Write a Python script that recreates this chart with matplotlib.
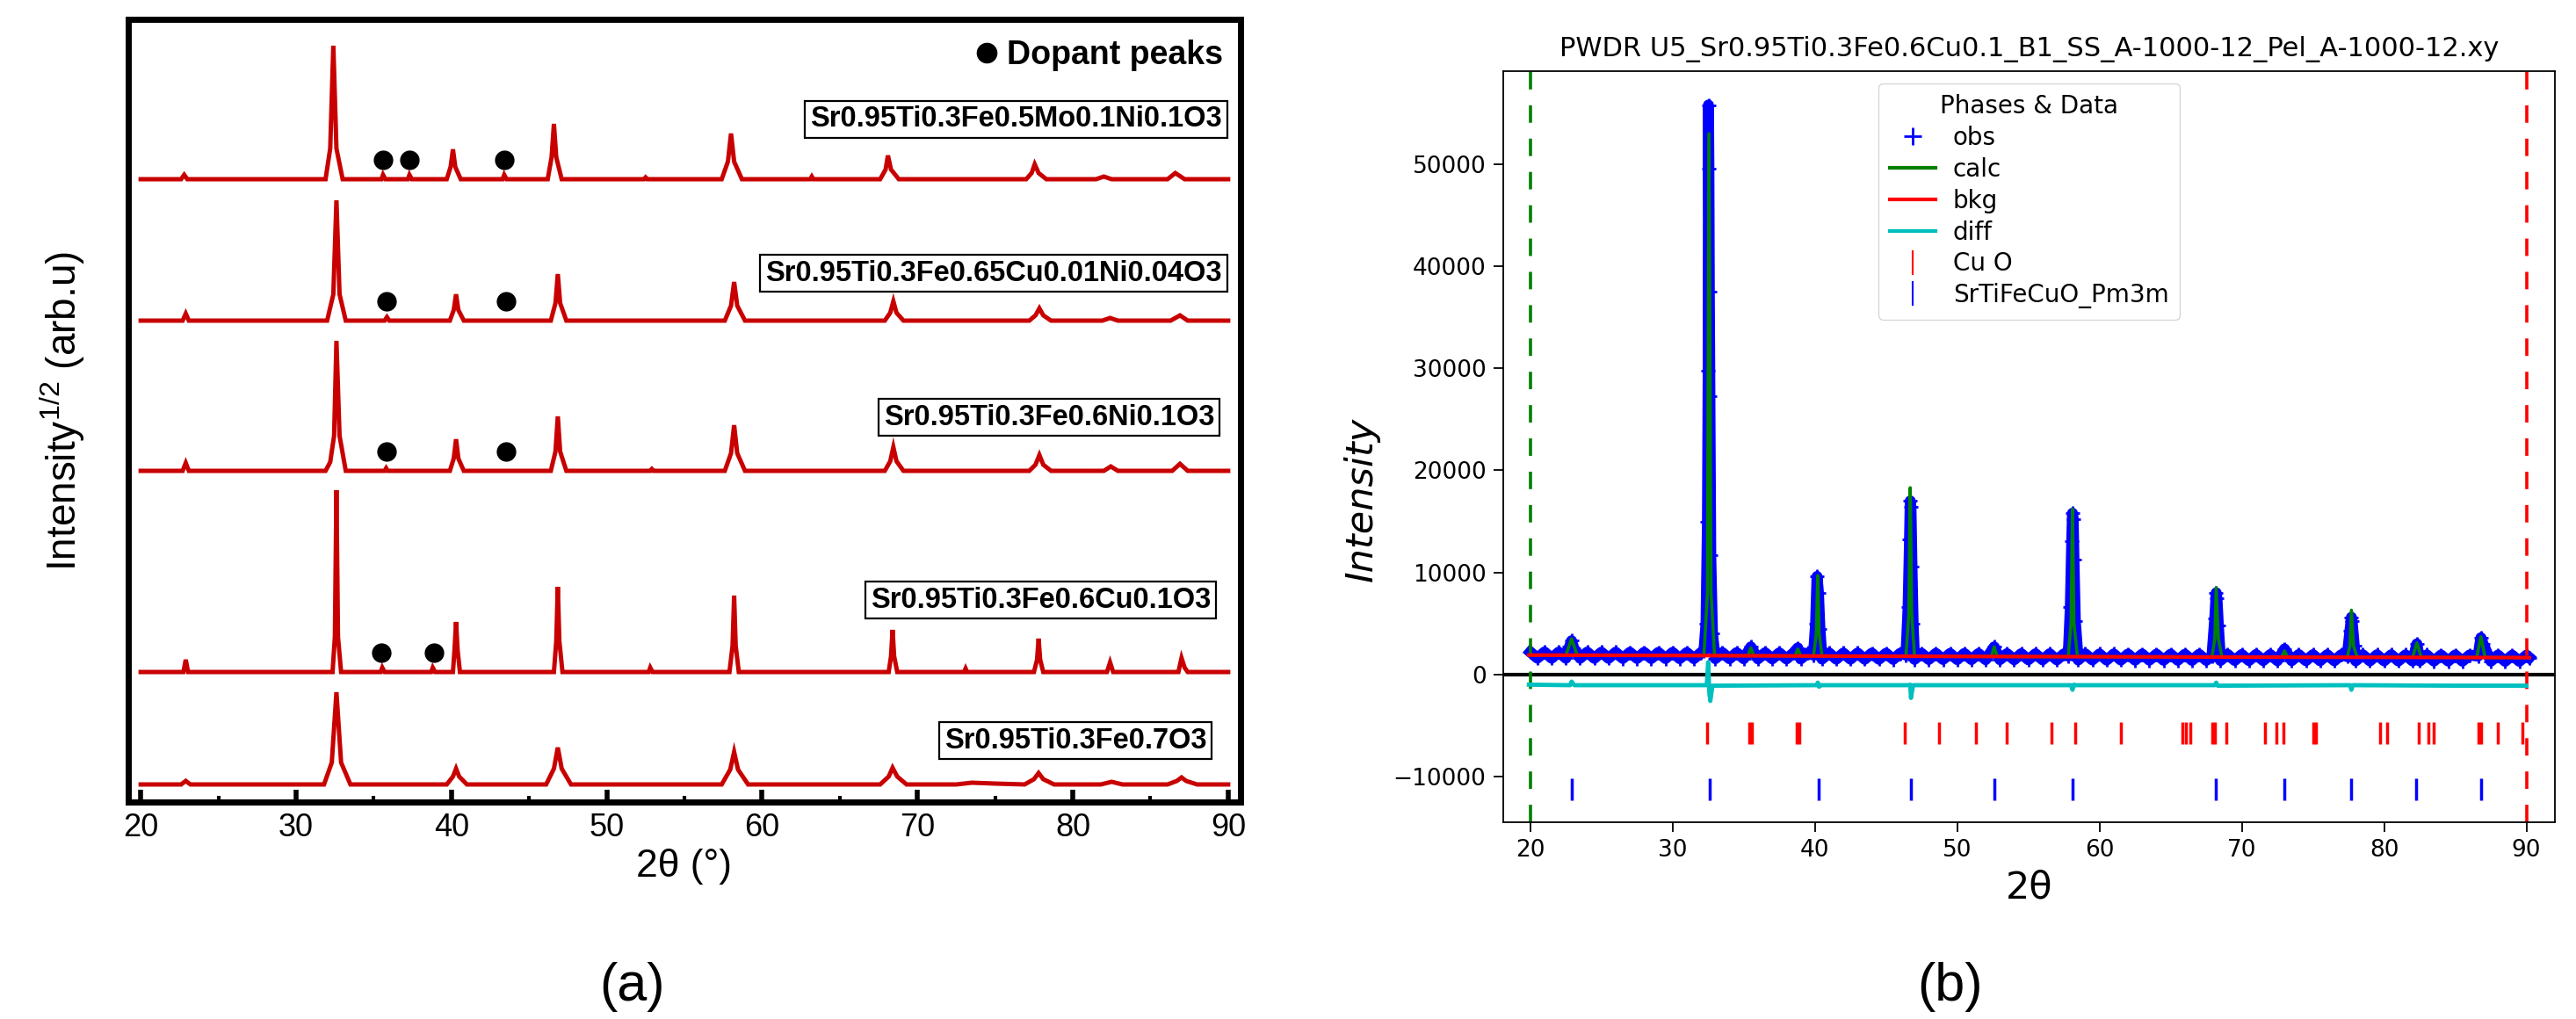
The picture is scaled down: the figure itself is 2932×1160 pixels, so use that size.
import numpy as np
import matplotlib
matplotlib.use("Agg")
import matplotlib.pyplot as plt
from matplotlib.lines import Line2D

plt.rcParams["font.family"] = ["Liberation Sans", "DejaVu Sans"]
plt.rcParams["mathtext.fontset"] = "custom"
plt.rcParams["mathtext.rm"] = "Liberation Sans"
plt.rcParams["mathtext.default"] = "regular"

# ---------------- panel (a): stacked XRD patterns ----------------
sample_names = [
    "Sr0.95Ti0.3Fe0.5Mo0.1Ni0.1O3",
    "Sr0.95Ti0.3Fe0.65Cu0.01Ni0.04O3",
    "Sr0.95Ti0.3Fe0.6Ni0.1O3",
    "Sr0.95Ti0.3Fe0.6Cu0.1O3",
    "Sr0.95Ti0.3Fe0.7O3",
]
# vertical stacking offsets (arb. units)
offsets = [709, 548, 377, 148, 20]

# (2theta, sqrt intensity above baseline)
pat_mo_ni = [(20, 0), (22.6, 0), (22.8, 5), (23.0, 0), (31.9, 0), (32.2, 35), (32.4, 152), (32.6, 35), (33.0, 0),
             (35.5, 0), (35.6, 5), (35.75, 0), (37.2, 0), (37.3, 5), (37.45, 0), (39.7, 0), (39.95, 14),
             (40.1, 34), (40.25, 14), (40.6, 0), (43.3, 0), (43.4, 5), (43.55, 0), (46.2, 0), (46.45, 25),
             (46.6, 63), (46.75, 25), (47.1, 0), (52.4, 0), (52.5, 2), (52.6, 0), (57.4, 0), (57.8, 20),
             (58.0, 52), (58.2, 20), (58.7, 0), (63.1, 0), (63.2, 3), (63.3, 0), (67.6, 0), (67.95, 11),
             (68.1, 27), (68.3, 11), (68.8, 0), (77.0, 0), (77.35, 7), (77.55, 17), (77.8, 7), (78.3, 0),
             (81.5, 0), (82.0, 3), (82.5, 0), (86.1, 0), (86.6, 7), (87.2, 0), (90, 0)]
pat_cu_ni = [(20, 0), (22.7, 0), (22.9, 8), (23.1, 0), (32.0, 0), (32.4, 30), (32.6, 137), (32.8, 30), (33.2, 0),
             (35.7, 0), (35.85, 4), (36.0, 0), (39.9, 0), (40.15, 12), (40.3, 30), (40.45, 12), (40.8, 0),
             (46.4, 0), (46.7, 20), (46.85, 53), (47.0, 20), (47.4, 0), (57.6, 0), (58.0, 17), (58.2, 44),
             (58.4, 17), (58.9, 0), (67.9, 0), (68.25, 9), (68.45, 22), (68.65, 9), (69.1, 0), (77.2, 0),
             (77.6, 6), (77.85, 14), (78.1, 6), (78.6, 0), (81.9, 0), (82.4, 3), (82.9, 0), (86.3, 0),
             (86.9, 6), (87.4, 0), (90, 0)]
pat_ni = [(20, 0), (22.7, 0), (22.9, 9), (23.1, 0), (31.9, 0), (32.2, 10), (32.45, 40), (32.6, 148), (32.8, 40),
          (33.2, 0), (35.7, 0), (35.8, 3), (35.9, 0), (39.9, 0), (40.15, 14), (40.3, 36), (40.45, 14), (40.8, 0),
          (46.4, 0), (46.7, 22), (46.85, 62), (47.0, 22), (47.4, 0), (52.8, 0), (52.9, 2), (53.0, 0), (57.6, 0),
          (58.0, 20), (58.2, 52), (58.4, 20), (58.9, 0), (67.9, 0), (68.25, 11), (68.45, 27), (68.65, 11),
          (69.1, 0), (77.2, 0), (77.6, 7), (77.85, 18), (78.1, 7), (78.6, 0), (82.0, 0), (82.45, 5), (82.9, 0),
          (86.4, 0), (86.9, 8), (87.4, 0), (90, 0)]
pat_cu = [(20, 0), (22.75, 0), (22.9, 14), (23.05, 0), (32.35, 0), (32.5, 40), (32.6, 207), (32.7, 40), (32.9, 0),
          (35.45, 0), (35.55, 5), (35.7, 0), (38.7, 0), (38.8, 5), (38.95, 0), (40.1, 0), (40.2, 25), (40.3, 57),
          (40.4, 25), (40.55, 0), (46.6, 0), (46.75, 35), (46.85, 97), (46.95, 35), (47.15, 0), (52.7, 0),
          (52.8, 5), (52.95, 0), (57.9, 0), (58.1, 30), (58.2, 87), (58.3, 30), (58.5, 0), (68.15, 0),
          (68.3, 18), (68.4, 48), (68.5, 18), (68.7, 0), (73.0, 0), (73.1, 4), (73.2, 0), (77.5, 0), (77.7, 14),
          (77.8, 38), (77.9, 14), (78.1, 0), (82.2, 0), (82.4, 11), (82.6, 0), (86.8, 0), (87.0, 16), (87.2, 5),
          (87.4, 0), (90, 0)]
pat_pure = [(20, 0), (22.6, 0), (22.9, 4), (23.2, 0), (31.8, 0), (32.3, 25), (32.6, 105), (32.9, 25), (33.5, 0),
            (39.7, 0), (40.1, 9), (40.3, 18), (40.5, 9), (41.0, 0), (46.1, 0), (46.6, 18), (46.85, 42),
            (47.1, 18), (47.7, 0), (57.4, 0), (57.95, 17), (58.2, 37), (58.45, 17), (59.1, 0), (67.6, 0),
            (68.15, 9), (68.4, 19), (68.7, 9), (69.3, 0), (72.5, 0), (73.5, 2), (75.0, 1), (76.9, 0),
            (77.5, 6), (77.8, 13), (78.1, 6), (78.8, 0), (81.8, 0), (82.5, 3), (83.2, 0), (86.1, 0),
            (86.7, 4), (87.0, 8), (87.3, 4), (88.0, 0), (90, 0)]
patterns = [pat_mo_ni, pat_cu_ni, pat_ni, pat_cu, pat_pure]

# secondary (dopant) phase peak positions per sample
dopant_peaks = [[35.6, 37.3, 43.4], [35.8, 43.5], [35.8, 43.5], [35.5, 38.9], []]

# label box anchors (right edge 2theta, height)
label_x = [89.6, 89.6, 89.1, 88.9, 88.6]
label_y = [777, 602, 438, 230, 70]

# ---------------- panel (b): Rietveld refinement ----------------
plot_title = "PWDR U5_Sr0.95Ti0.3Fe0.6Cu0.1_B1_SS_A-1000-12_Pel_A-1000-12.xy"
obs_pts = [(20.0, 2200), (20.5, 1600), (21.0, 2200), (21.5, 1590), (22.0, 2190), (22.5, 1590), (22.75, 2700),
           (22.9, 3300), (23.05, 2600), (23.5, 1590), (24.0, 2190), (24.5, 1580), (25.0, 2180), (25.5, 1580),
           (26.0, 2180), (26.5, 1570), (27.0, 2170), (27.5, 1570), (28.0, 2170), (28.5, 1560), (29.0, 2160),
           (29.5, 1560), (30.0, 2160), (30.5, 1550), (31.0, 2150), (31.5, 1550), (32.0, 2150), (32.2, 2300),
           (32.35, 5000), (32.45, 15000), (32.5, 29800), (32.52, 55800), (32.55, 49600), (32.58, 37500),
           (32.62, 27300), (32.68, 11700), (32.8, 4000), (33.0, 1550), (33.5, 2140), (34.0, 1540), (34.5, 2140),
           (35.0, 1540), (35.5, 2700), (36.0, 1530), (36.5, 2130), (37.0, 1530), (37.5, 2120), (38.0, 1520),
           (38.5, 2120), (38.8, 2600), (39.0, 1520), (39.5, 2110), (39.9, 1900), (40.05, 5000), (40.15, 9600),
           (40.25, 8000), (40.35, 4500), (40.5, 1510), (41.0, 2110), (41.5, 1500), (42.0, 2100), (42.5, 1500),
           (43.0, 2100), (43.5, 1490), (44.0, 2090), (44.5, 1490), (45.0, 2080), (45.5, 1480), (46.0, 2080),
           (46.4, 1900), (46.55, 6600), (46.65, 13200), (46.7, 17000), (46.75, 16400), (46.82, 10600),
           (46.9, 5000), (47.0, 1480), (47.5, 2070), (48.0, 1470), (48.5, 2070), (49.0, 1470), (49.5, 2060),
           (50.0, 1460), (50.5, 2060), (51.0, 1460), (51.5, 2050), (52.0, 1450), (52.6, 2700), (53.0, 1450),
           (53.5, 2040), (54.0, 1440), (54.5, 2040), (55.0, 1440), (55.5, 2030), (56.0, 1430), (56.5, 2030),
           (57.0, 1430), (57.5, 2020), (57.8, 1800), (57.95, 6600), (58.05, 13100), (58.1, 15800),
           (58.15, 15200), (58.2, 11300), (58.3, 5200), (58.5, 1420), (59.0, 2020), (59.5, 1420), (60.0, 2010),
           (60.5, 1410), (61.0, 2010), (61.5, 1410), (62.0, 2000), (62.5, 1400), (63.0, 2000), (63.5, 1400),
           (64.0, 1990), (64.5, 1390), (65.0, 1990), (65.5, 1390), (66.0, 1980), (66.5, 1380), (67.0, 1980),
           (67.5, 1380), (67.9, 1800), (68.1, 5500), (68.2, 8000), (68.25, 7500), (68.35, 4800), (68.5, 1370),
           (69.0, 1970), (69.5, 1370), (70.0, 1960), (70.5, 1360), (71.0, 1960), (71.5, 1360), (72.0, 1950),
           (72.5, 1350), (73.0, 2500), (73.5, 1350), (74.0, 1950), (74.5, 1350), (75.0, 1940), (75.5, 1340),
           (76.0, 1940), (76.5, 1340), (77.0, 1940), (77.4, 1750), (77.6, 4300), (77.7, 5600), (77.75, 5200),
           (77.9, 2800), (78.0, 1330), (78.5, 1930), (79.0, 1330), (79.5, 1930), (80.0, 1330), (80.5, 1930),
           (81.0, 1320), (81.5, 1920), (82.0, 1320), (82.3, 3000), (82.5, 1320), (83.0, 1920), (83.5, 1310),
           (84.0, 1910), (84.5, 1310), (85.0, 1910), (85.5, 1300), (86.0, 1900), (86.6, 1800), (86.8, 3600),
           (86.95, 3000), (87.5, 1300), (88.0, 1900), (88.5, 1290), (89.0, 1890), (89.5, 1290), (90.0, 1890),
           (90.2, 1650)]
calc_pts = [(19.9, 1900), (22.5, 1880), (22.9, 3500), (23.3, 1880), (32.2, 1850), (32.45, 8000), (32.55, 53000),
            (32.7, 8000), (32.95, 1850), (35.3, 1840), (35.5, 2600), (35.7, 1840), (38.6, 1820), (38.8, 2500),
            (39.0, 1820), (39.9, 1810), (40.1, 4000), (40.2, 9700), (40.3, 4000), (40.5, 1810), (46.4, 1780),
            (46.6, 6000), (46.7, 18300), (46.8, 6000), (47.0, 1780), (52.4, 1760), (52.6, 2700), (52.8, 1760),
            (57.8, 1740), (58.0, 5000), (58.1, 16200), (58.2, 5000), (58.45, 1740), (67.9, 1710), (68.1, 3500),
            (68.2, 8500), (68.35, 3500), (68.6, 1710), (72.8, 1700), (73.0, 2300), (73.2, 1700), (77.4, 1690),
            (77.6, 2800), (77.7, 6300), (77.85, 2800), (78.1, 1690), (82.0, 1680), (82.3, 3100), (82.6, 1680),
            (86.5, 1665), (86.8, 3700), (87.1, 1665), (90.2, 1650)]
bkg_pts = [(19.9, 1900), (30, 1860), (40, 1810), (50, 1770), (60, 1740), (70, 1700), (80, 1680), (90.2, 1650)]
diff_pts = [(19.9, -1000), (22.8, -1050), (22.9, -700), (23.1, -1050), (32.4, -1050), (32.5, 1200), (32.58, -1800),
            (32.65, -2600), (32.8, -1100), (40.15, -1050), (40.2, -800), (40.3, -1200), (40.4, -1050),
            (46.6, -1050), (46.7, -1000), (46.75, -2300), (46.9, -1050), (58.0, -1050), (58.1, -1500),
            (58.2, -1000), (58.3, -1050), (68.1, -1050), (68.2, -800), (68.3, -1100), (77.6, -1050),
            (77.7, -1500), (77.8, -1050), (85.0, -1100), (90.0, -1100)]
cuo_ticks = [32.43, 35.4, 35.55, 38.7, 38.9, 46.3, 48.75, 51.3, 53.5, 56.65, 58.27, 61.5, 65.8, 66.1, 66.4,
             67.9, 68.1, 68.9, 71.6, 72.4, 72.9, 75.0, 75.2, 79.7, 80.2, 82.4, 83.1, 83.5, 86.6, 86.8,
             88.0, 89.7]
perov_ticks = [22.9, 32.6, 40.25, 46.75, 52.6, 58.1, 68.2, 73.0, 77.7, 82.25, 86.8]
phase_names = ["Cu O", "SrTiFeCuO_Pm3m"]
tick_levels = [-5700, -11200]
lim_lo, lim_hi = 20, 90

W, H = 2932, 1160
fig = plt.figure(figsize=(W / 100, H / 100), dpi=100)

# ---- panel (a)
ax1 = fig.add_axes([146 / W, 1 - 913 / H, 1266 / W, 891 / H])
red = "#c80000"
for pat, off, dop in zip(patterns, offsets, dopant_peaks):
    tt = np.array([p[0] for p in pat])
    ii = np.array([p[1] for p in pat])
    ax1.plot(tt, ii + off, color=red, lw=3.6, solid_joinstyle="miter")
    if dop:
        ax1.plot(dop, [off + 22] * len(dop), "o", color="black", ms=15)

for name, lx, ly in zip(sample_names, label_x, label_y):
    ax1.text(lx, ly, name, ha="right", va="center", fontsize=23.5, fontweight="bold",
             bbox=dict(boxstyle="square,pad=0.18", fc="white", ec="black", lw=1.6))

ax1.legend(handles=[Line2D([], [], ls="none", marker="o", color="black", ms=16)],
           labels=["Dopant peaks"], loc="center right", bbox_to_anchor=(0.984, 0.954),
           frameon=False, prop={"size": 27, "weight": "bold"}, handletextpad=0.15,
           handlelength=0.9, borderaxespad=0, borderpad=0)

ax1.set_xlim(19.2, 90.8)
ax1.set_ylim(0, 891)
ax1.set_yticks([])
ax1.set_xticks(np.arange(20, 91, 10))
ax1.set_xticks(np.arange(25, 90, 10), minor=True)
ax1.tick_params(axis="x", which="major", direction="in", length=10, width=4, labelsize=26, pad=9)
ax1.tick_params(axis="x", which="minor", direction="in", length=5, width=3)
for sp in ax1.spines.values():
    sp.set_linewidth(5)
ax1.set_xlabel("2θ (°)", fontsize=32, labelpad=4)
ax1.set_ylabel("Intensity$^{1/2}$ (arb.u)", fontsize=33, labelpad=34)

# ---- panel (b)
dv = ["DejaVu Sans"]
ax2 = fig.add_axes([1711 / W, 1 - 936 / H, 1197 / W, 855 / H])
ox = [p[0] for p in obs_pts]
oy = [p[1] for p in obs_pts]
ax2.plot(ox, oy, color="blue", lw=9, solid_joinstyle="round", zorder=2)
ax2.plot(ox, oy, "+", color="blue", ms=12, mew=2, zorder=2)
ax2.plot([p[0] for p in calc_pts], [p[1] for p in calc_pts], color="green", lw=2.6, zorder=3)
ax2.plot([p[0] for p in bkg_pts], [p[1] for p in bkg_pts], color="red", lw=3, zorder=3)
ax2.plot([p[0] for p in diff_pts], [p[1] for p in diff_pts], color="c", lw=3.5, zorder=3)
ax2.axhline(0, color="black", lw=3, zorder=1)
ax2.plot(cuo_ticks, [tick_levels[0]] * len(cuo_ticks), "|", color="red", ms=18, mew=2.5)
ax2.plot(perov_ticks, [tick_levels[1]] * len(perov_ticks), "|", color="blue", ms=18, mew=2.5)
ax2.axvline(lim_lo, color="green", lw=2.6, ls=(0, (5.5, 5)))
ax2.axvline(lim_hi, color="red", lw=2.6, ls=(0, (5.5, 5)))

handles = [
    Line2D([], [], ls="none", marker="+", color="blue", ms=14, mew=2),
    Line2D([], [], color="green", lw=3),
    Line2D([], [], color="red", lw=3),
    Line2D([], [], color="c", lw=3),
    Line2D([], [], ls="none", marker="|", color="red", ms=20, mew=1.5),
    Line2D([], [], ls="none", marker="|", color="blue", ms=20, mew=1.5),
]
leg = ax2.legend(handles=handles, labels=["obs", "calc", "bkg", "diff"] + phase_names,
                 loc="upper center", title="Phases & Data", prop={"family": dv, "size": 20},
                 title_fontproperties={"family": dv, "size": 20}, handlelength=1.9,
                 labelspacing=0.28, handletextpad=0.7, borderpad=0.45)

ax2.set_xlim(18.1, 92.0)
ax2.set_ylim(-14480, 59120)
ax2.set_xticks(np.arange(20, 91, 10))
ax2.set_yticks(np.arange(-10000, 50001, 10000))
ax2.tick_params(labelsize=19, length=8, width=1.3, pad=6)
for lab in ax2.get_xticklabels() + ax2.get_yticklabels():
    lab.set_family(dv)
for sp in ax2.spines.values():
    sp.set_linewidth(1.3)
ax2.set_title(plot_title, fontsize=22, family=dv, pad=12)
ax2.set_xlabel("2θ", fontsize=31, family=dv, labelpad=6)
ax2.set_ylabel("Intensity", fontsize=31, family=dv, style="italic")
ax2.yaxis.set_label_coords(-0.117, 0.43)

fig.text(720 / W, 1 - 1123 / H, "(a)", fontsize=44, ha="center", va="center")
fig.text(2220 / W, 1 - 1123 / H, "(b)", fontsize=44, ha="center", va="center")

fig.savefig("out.png", dpi=100)
